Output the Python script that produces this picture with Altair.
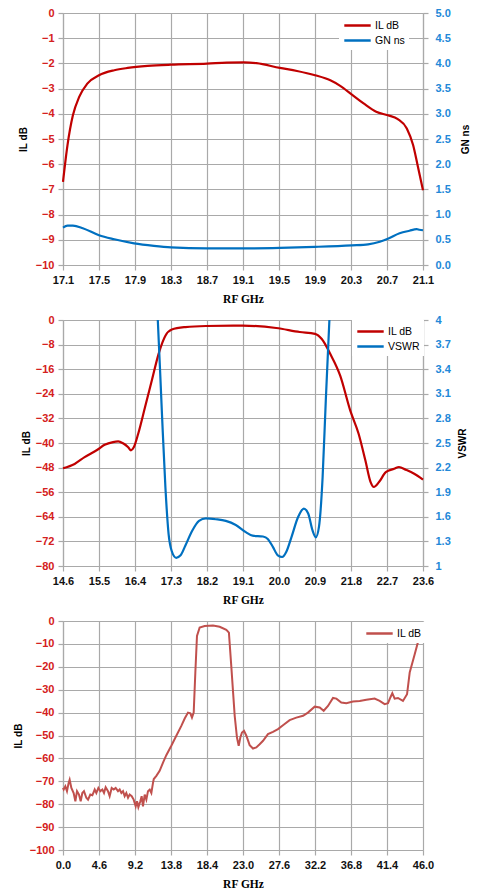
import altair as alt
import pandas as pd

# ---------------- data ----------------
# Panel 1: IL dB and group delay (GN ns) vs RF GHz
p1_f_il = [17.10, 17.15, 17.21, 17.28, 17.37, 17.50, 17.67, 17.82, 18.04, 18.30, 18.70, 18.92,
           19.11, 19.25, 19.51, 19.70, 19.90, 20.07, 20.18, 20.31, 20.44, 20.58, 20.71, 20.82,
           20.92, 20.99, 21.04, 21.10]
p1_il = [-6.70, -5.24, -4.06, -3.33, -2.80, -2.47, -2.27, -2.18, -2.10, -2.05, -2.01, -1.97,
         -1.96, -1.99, -2.18, -2.30, -2.47, -2.67, -2.89, -3.24, -3.59, -3.92, -4.06, -4.21,
         -4.58, -5.24, -6.04, -7.03]
p1_f_gn = [17.10, 17.15, 17.21, 17.32, 17.50, 17.67, 17.89, 18.11, 18.30, 18.70, 19.11, 19.51,
           19.90, 20.31, 20.49, 20.62, 20.71, 20.84, 20.95, 21.03, 21.06, 21.10]
p1_gn = [0.74, 0.78, 0.78, 0.73, 0.59, 0.51, 0.43, 0.38, 0.35, 0.33, 0.33, 0.34,
         0.36, 0.39, 0.41, 0.46, 0.52, 0.63, 0.68, 0.71, 0.70, 0.69]

# Panel 2: IL dB and VSWR vs RF GHz
p2_f_il = [14.60, 14.89, 15.14, 15.47, 15.64, 15.85, 15.98, 16.10, 16.23, 16.30, 16.37, 16.48,
           16.65, 16.82, 16.99, 17.16, 17.32, 17.66, 18.17, 19.09, 19.93, 20.52, 20.90, 21.07,
           21.28, 21.53, 21.78, 21.99, 22.16, 22.29, 22.37, 22.50, 22.67, 22.88, 23.00, 23.17,
           23.38, 23.60]
p2_il = [-48.2, -46.8, -44.6, -42.1, -40.6, -39.7, -39.5, -40.1, -41.4, -42.4, -41.4, -37.0,
         -28.4, -19.7, -11.0, -5.1, -3.1, -2.3, -1.95, -1.84, -2.6, -3.9, -4.5, -6.2,
         -11.0, -18.1, -29.4, -37.0, -45.7, -52.7, -54.3, -52.7, -49.5, -48.4, -47.8, -48.7,
         -50.0, -51.9]
p2_f_vswr = [16.90, 16.97, 17.07, 17.16, 17.24, 17.32, 17.43, 17.54, 17.66, 17.83, 18.00, 18.17,
             18.42, 18.67, 18.92, 19.18, 19.34, 19.60, 19.72, 19.85, 19.97, 20.08, 20.18, 20.31,
             20.48, 20.62, 20.73, 20.84, 20.92, 21.00, 21.09, 21.17, 21.26, 21.32]
p2_vswr = [4.60, 4.00, 2.90, 1.96, 1.39, 1.18, 1.10, 1.13, 1.25, 1.43, 1.55, 1.58,
           1.57, 1.55, 1.50, 1.41, 1.37, 1.36, 1.33, 1.23, 1.13, 1.11, 1.17, 1.35,
           1.60, 1.70, 1.64, 1.43, 1.35, 1.48, 2.08, 3.02, 4.00, 4.60]

# Panel 3: wide-band IL dB vs RF GHz
p3_f = [0.00, 0.09, 0.30, 0.51, 0.72, 0.85, 1.07, 1.36, 1.58, 1.79, 2.04, 2.26, 2.47, 2.68,
        2.98, 3.20, 3.49, 3.75, 4.05, 4.26, 4.52, 4.77, 5.03, 5.24, 5.45, 5.75, 5.96, 6.22,
        6.48, 6.73, 7.03, 7.24, 7.46, 7.67, 7.88, 8.09, 8.31, 8.52, 8.78, 9.03, 9.29, 9.46,
        9.63, 9.88, 10.05, 10.22, 10.44, 10.65, 10.86, 11.08, 11.29, 11.50, 11.60, 11.93,
        12.35, 12.78, 13.20, 13.84, 14.48, 15.12, 15.55, 15.97, 16.27, 16.48, 16.70, 16.91,
        17.12, 17.46, 18.10, 19.17, 20.02, 20.87, 21.20, 21.50, 21.94, 22.23, 22.45, 22.66,
        22.87, 23.13, 23.43, 23.85, 24.28, 24.70, 25.13, 25.56, 26.19, 26.83, 27.47, 28.11,
        28.96, 29.81, 30.67, 31.30, 32.16, 32.80, 33.31, 33.86, 34.50, 34.93, 35.56, 36.20,
        37.06, 37.91, 38.76, 39.82, 40.46, 41.10, 41.53, 41.83, 42.08, 42.38, 42.80, 43.44,
        43.96, 44.30, 44.94, 45.57, 46.00]
p3_il = [-72.9, -73.6, -72.2, -74.3, -70.7, -69.3, -72.9, -75.1, -78.7, -74.3, -75.8, -78.7,
         -75.1, -74.3, -77.2, -78.0, -75.8, -76.1, -73.6, -75.1, -72.9, -74.3, -73.6, -75.1,
         -72.6, -74.3, -76.5, -72.9, -73.6, -72.9, -74.3, -73.6, -75.1, -74.3, -76.5, -75.1,
         -77.2, -75.8, -76.5, -78.0, -80.9, -78.7, -81.3, -78.7, -76.5, -80.9, -75.8, -78.0,
         -74.3, -73.6, -75.1, -70.7, -69.0, -67.6, -65.4, -61.8, -58.6, -54.5, -50.1, -45.8,
         -42.6, -40.0, -40.3, -42.2, -40.0, -22.5, -6.5, -2.9, -2.2, -2.0, -2.5, -3.9,
         -5.1, -19.6, -41.4, -50.9, -54.5, -50.9, -48.7, -48.0, -50.1, -54.2, -55.7, -55.2,
         -53.8, -52.3, -49.4, -48.4, -47.2, -45.5, -43.3, -42.2, -41.4, -40.0, -37.4, -37.8,
         -39.2, -37.1, -33.6, -33.9, -35.6, -35.9, -35.2, -34.9, -34.4, -33.9, -34.9, -36.3,
         -35.9, -33.4, -31.5, -33.9, -33.6, -34.9, -32.0, -22.5, -14.5, -6.5, -2.9]

# axis tick values
p1_xticks = [17.1, 17.5, 17.9, 18.3, 18.7, 19.1, 19.5, 19.9, 20.3, 20.7, 21.1]
p1_yticks = [0, -1, -2, -3, -4, -5, -6, -7, -8, -9, -10]
p1_y2ticks = [0.0, 0.5, 1.0, 1.5, 2.0, 2.5, 3.0, 3.5, 4.0, 4.5, 5.0]
p2_xticks = [14.6, 15.5, 16.4, 17.3, 18.2, 19.1, 20.0, 20.9, 21.8, 22.7, 23.6]
p2_yticks = [0, -8, -16, -24, -32, -40, -48, -56, -64, -72, -80]
p2_y2ticks = [1, 1.3, 1.6, 1.9, 2.2, 2.5, 2.8, 3.1, 3.4, 3.7, 4]
p3_xticks = [0.0, 4.6, 9.2, 13.8, 18.4, 23.0, 27.6, 32.2, 36.8, 41.4, 46.0]
p3_yticks = [0, -10, -20, -30, -40, -50, -60, -70, -80, -90, -100]

# ---------------- style ----------------
RED = "#C00000"
RED_LBL = "#D42020"
BLUE = "#0070C0"
BLUE_LBL = "#2288D8"
RED3 = "#C0504D"
GRID = "#A9A9A9"
W = 360


def xaxis(vals):
    return alt.Axis(values=vals, format=".1f", title="RF GHz", titleY=34,
                    titleBaseline="middle", labelColor="#111111", labelPadding=4,
                    labelOverlap=False, labelFlush=False, grid=True)


def yleft(vals, fmt, tx):
    return alt.Axis(values=vals, format=fmt, title="IL dB", titleX=tx, titleAngle=270,
                    titleBaseline="middle", labelColor=RED_LBL, labelPadding=4,
                    labelOverlap=False, grid=True)


def yright(vals, fmt, title, tx):
    return alt.Axis(values=vals, format=fmt, title=title, orient="right", titleX=tx,
                    titleAngle=270, titleBaseline="middle", labelColor=BLUE_LBL,
                    labelPadding=7, labelOverlap=False, grid=False)


def leg(x, y):
    return alt.Legend(orient="none", legendX=x, legendY=y, title=None)


# ---------------- panel 1 ----------------
d1a = pd.DataFrame({"f": p1_f_il, "v": p1_il, "s": "IL dB"})
d1b = pd.DataFrame({"f": p1_f_gn, "v": p1_gn, "s": "GN ns"})
c1 = alt.Scale(domain=["IL dB", "GN ns"], range=[RED, BLUE])
x1 = alt.X("f:Q", scale=alt.Scale(domain=[17.1, 21.1], nice=False, zero=False), axis=xaxis(p1_xticks))
l1a = alt.Chart(d1a).mark_line(strokeWidth=2.2, interpolate="monotone").encode(
    x=x1,
    y=alt.Y("v:Q", scale=alt.Scale(domain=[-10, 0], nice=False), axis=yleft(p1_yticks, "d", -40)),
    color=alt.Color("s:N", scale=c1, legend=leg(276, 1)),
)
l1b = alt.Chart(d1b).mark_line(strokeWidth=2.2, interpolate="monotone").encode(
    x=x1,
    y=alt.Y("v:Q", scale=alt.Scale(domain=[0, 5], nice=False, zero=False),
            axis=yright(p1_y2ticks, ".1f", "GN ns", 42)),
    color=alt.Color("s:N", scale=c1, legend=leg(276, 1)),
)
p1 = alt.layer(l1a, l1b).resolve_scale(y="independent").properties(width=W, height=252)

# ---------------- panel 2 ----------------
d2a = pd.DataFrame({"f": p2_f_il, "v": p2_il, "s": "IL dB"})
d2b = pd.DataFrame({"f": p2_f_vswr, "v": p2_vswr, "s": "VSWR"})
c2 = alt.Scale(domain=["IL dB", "VSWR"], range=[RED, BLUE])
x2 = alt.X("f:Q", scale=alt.Scale(domain=[14.6, 23.6], nice=False, zero=False), axis=xaxis(p2_xticks))
l2a = alt.Chart(d2a).mark_line(strokeWidth=2.2, interpolate="monotone").encode(
    x=x2,
    y=alt.Y("v:Q", scale=alt.Scale(domain=[-80, 0], nice=False), axis=yleft(p2_yticks, "d", -37)),
    color=alt.Color("s:N", scale=c2, legend=leg(289, 0)),
)
l2b = alt.Chart(d2b).mark_line(strokeWidth=2.2, interpolate="monotone", clip=True).encode(
    x=x2,
    y=alt.Y("v:Q", scale=alt.Scale(domain=[1, 4], nice=False, zero=False),
            axis=yright(p2_y2ticks, "~g", "VSWR", 39)),
    color=alt.Color("s:N", scale=c2, legend=leg(289, 0)),
)
p2 = alt.layer(l2a, l2b).resolve_scale(y="independent").properties(width=W, height=246)

# ---------------- panel 3 ----------------
d3 = pd.DataFrame({"f": p3_f, "v": p3_il, "s": "IL dB"})
p3 = alt.Chart(d3).mark_line(strokeWidth=2.0).encode(
    x=alt.X("f:Q", scale=alt.Scale(domain=[0, 46], nice=False, zero=False), axis=xaxis(p3_xticks)),
    y=alt.Y("v:Q", scale=alt.Scale(domain=[-100, 0], nice=False), axis=yleft(p3_yticks, "d", -45)),
    color=alt.Color("s:N", scale=alt.Scale(domain=["IL dB"], range=[RED3]), legend=leg(298, 1)),
).properties(width=W, height=229)

chart = alt.VConcatChart(vconcat=[p1, p2, p3], spacing=55, bounds="flush").resolve_scale(
    color="independent").resolve_legend(color="independent").properties(
    padding={"left": 5, "top": -1, "right": 0, "bottom": -1}
).configure_view(stroke=None).configure_axis(
    labelFont="Liberation Sans", labelFontSize=11, labelFontWeight="bold",
    titleFont="Liberation Sans", titleFontSize=10, titleFontWeight="bold", titleColor="#000000",
    tickSize=5, tickColor=GRID, domainColor=GRID, gridColor=GRID, gridWidth=1.2,
    domainWidth=1.2, tickWidth=1.2,
).configure_axisX(
    titleFont="Liberation Serif", titleFontSize=11.5,
).configure_legend(
    symbolType="M-2.2,0L2.2,0", symbolSize=144, symbolStrokeWidth=2.5,
    labelFont="Liberation Sans", labelFontSize=10.5, labelColor="#000000",
    fillColor="white", padding=4, rowPadding=2, labelOffset=10, symbolOffset=7,
)

chart.save("out.html", embed_options={"renderer": "svg", "actions": False})
